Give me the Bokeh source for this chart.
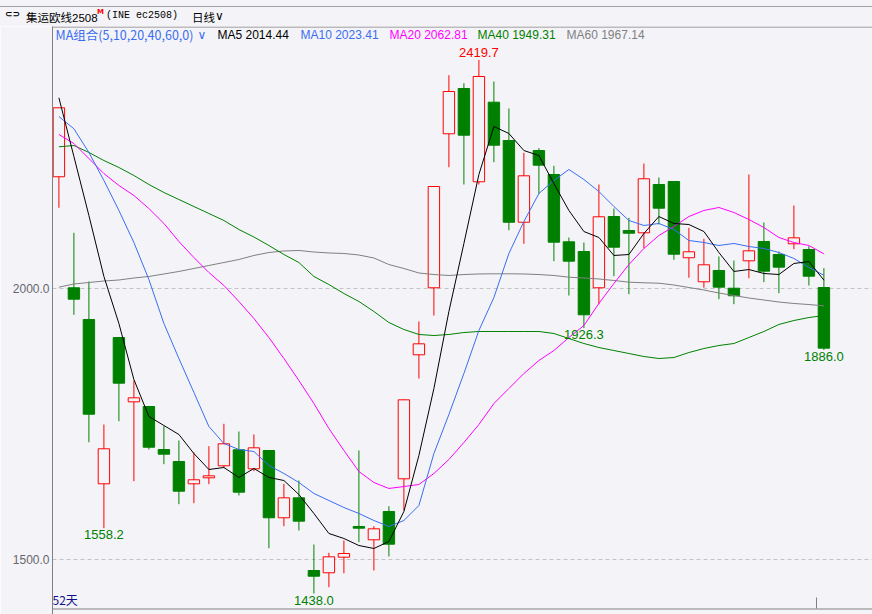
from bokeh.plotting import figure
from bokeh.layouts import column
from bokeh.models import (Range1d, FixedTicker, NumeralTickFormatter, Label, ColumnDataSource,
                          BoxAnnotation, Div)
from bokeh.core.properties import value
from bokeh.embed import file_html
from bokeh.resources import INLINE

# ---------------- data ----------------
opens = [2204.6, 2000.4, 1942.1, 1639.8, 1908.9, 1790.6, 1782.0, 1702.9, 1680.8, 1639.8,
         1650.8, 1672.9, 1702.4, 1667.4, 1701.1, 1577.3, 1614.0, 1480.3, 1476.1, 1504.8,
         1561.3, 1536.8, 1588.9, 1649.0, 1877.1, 2000.4, 2283.7, 2367.0, 2195.4, 2341.8,
         2271.3, 2121.0, 2252.9, 2208.8, 2085.0, 2067.1, 2000.4, 2131.5, 2105.8, 2101.5,
         2190.4, 2195.9, 2055.6, 2011.4, 2032.2, 1999.6, 2050.0, 2085.5, 2061.6, 2081.3,
         2070.8, 2000.9]
highs = [2331.5, 2101.5, 2012.0, 1748.9, 1910.0, 1829.8, 1783.0, 1745.8, 1719.5, 1697.4,
         1709.0, 1750.2, 1736.0, 1730.5, 1701.1, 1639.8, 1645.9, 1528.1, 1512.9, 1535.5,
         1701.1, 1561.8, 1598.6, 1795.0, 1938.4, 2187.0, 2391.5, 2376.7, 2419.7, 2379.9,
         2330.2, 2248.7, 2257.2, 2224.8, 2092.9, 2083.7, 2190.4, 2146.2, 2129.1, 2229.0,
         2203.3, 2195.9, 2110.7, 2090.5, 2057.9, 2050.6, 2208.8, 2120.5, 2067.1, 2151.8,
         2076.9, 2036.4]
lows = [2147.5, 1950.7, 1716.3, 1558.2, 1755.0, 1644.6, 1702.9, 1675.9, 1602.3, 1604.1,
        1639.1, 1669.2, 1618.3, 1663.0, 1521.3, 1561.8, 1553.9, 1438.0, 1449.6, 1475.3,
        1532.4, 1480.3, 1506.1, 1590.7, 1833.5, 1949.4, 2222.2, 2190.4, 2190.4, 2231.4,
        2106.3, 2081.3, 2173.3, 2049.3, 1986.2, 1926.3, 1970.2, 2021.7, 1988.6, 2073.2,
        2116.8, 2051.9, 2018.8, 2000.4, 1979.4, 1970.2, 2018.0, 2010.7, 1990.4, 2071.4,
        2004.6, 1886.0]
closes = [2331.5, 1979.4, 1767.8, 1704.2, 1824.9, 1798.0, 1707.1, 1694.3, 1626.2, 1647.2,
          1654.5, 1713.4, 1624.4, 1706.0, 1577.3, 1614.0, 1571.0, 1469.8, 1505.5, 1511.6,
          1558.1, 1557.0, 1528.7, 1794.3, 1897.3, 2186.7, 2361.5, 2281.1, 2389.1, 2262.7,
          2121.0, 2206.4, 2225.9, 2084.3, 2049.3, 1950.7, 2131.0, 2075.1, 2100.8, 2200.9,
          2146.8, 2062.2, 2066.6, 2042.7, 2001.5, 1985.7, 2068.4, 2030.9, 2038.3, 2092.3,
          2021.7, 1889.3]

ma5 = [2349.9, 2241.9, 2133.4, 2021.2, 1934.7, 1831.7, 1763.6, 1747.1, 1730.5, 1695.5,
       1666.1, 1669.8, 1651.4, 1668.0, 1651.4, 1645.9, 1620.1, 1585.2, 1548.4, 1539.2,
       1526.3, 1520.8, 1533.7, 1588.9, 1691.9, 1815.1, 1956.8, 2081.9, 2208.8, 2297.1,
       2284.2, 2252.9, 2243.7, 2192.2, 2142.6, 2103.9, 2092.9, 2059.8, 2061.6, 2100.3,
       2131.5, 2118.7, 2116.8, 2103.9, 2065.3, 2030.4, 2034.0, 2026.7, 2024.8, 2045.1,
       2048.7, 2014.44]
ma10 = [2315.5, 2292.9, 2249.3, 2197.8, 2142.6, 2083.7, 2015.6, 1934.7, 1870.3, 1807.8,
        1745.2, 1713.9, 1702.9, 1699.2, 1673.5, 1658.8, 1642.2, 1622.0, 1609.1, 1596.2,
        1585.2, 1572.3, 1561.3, 1572.3, 1599.9, 1695.5, 1767.3, 1842.7, 1921.8, 1982.5,
        2063.5, 2122.3, 2173.8, 2197.8, 2218.0, 2199.6, 2177.5, 2149.9, 2124.2, 2115.0,
        2118.7, 2107.6, 2087.4, 2083.7, 2078.2, 2081.9, 2076.3, 2072.7, 2065.3, 2054.3,
        2037.7, 2023.41]
ma20 = [2282.4, 2265.8, 2238.2, 2210.6, 2188.6, 2170.2, 2146.2, 2118.7, 2085.5, 2056.1,
        2028.5, 2004.6, 1975.2, 1943.9, 1908.9, 1870.3, 1829.8, 1787.5, 1741.5, 1701.1,
        1662.4, 1642.2, 1631.2, 1634.8, 1638.5, 1658.8, 1684.5, 1715.8, 1748.9, 1787.5,
        1815.1, 1842.7, 1866.6, 1885.0, 1908.9, 1931.0, 1971.5, 2008.3, 2043.2, 2072.7,
        2096.6, 2113.1, 2131.5, 2142.6, 2148.1, 2138.9, 2126.0, 2111.3, 2092.9, 2083.7,
        2078.2, 2062.81]
ma40 = [2259.8, 2262.1, 2249.3, 2234.5, 2221.7, 2207.0, 2190.4, 2175.7, 2162.8, 2149.9,
        2137.1, 2124.2, 2107.6, 2093.8, 2078.2, 2061.6, 2046.9, 2021.2, 2006.4, 1989.9,
        1975.2, 1956.8, 1936.5, 1923.7, 1914.5, 1912.6, 1914.5, 1918.1, 1920.0, 1920.0,
        1920.0, 1920.0, 1920.0, 1916.3, 1907.1, 1897.9, 1890.5, 1885.0, 1879.5, 1874.0,
        1870.3, 1872.1, 1881.3, 1888.7, 1894.2, 1897.9, 1908.9, 1920.0, 1932.9, 1940.2,
        1945.7, 1949.31]
ma60 = [2001.5, 2007.4, 2010.1, 2012.9, 2014.7, 2018.4, 2021.2, 2025.8, 2030.4, 2035.9,
        2041.4, 2046.9, 2052.4, 2059.8, 2065.3, 2068.1, 2069.0, 2066.2, 2064.4, 2063.5,
        2060.7, 2055.2, 2043.2, 2035.9, 2027.6, 2024.8, 2023.0, 2024.8, 2025.8, 2026.1,
        2026.1, 2025.8, 2024.8, 2023.0, 2019.9, 2018.4, 2016.6, 2013.8, 2010.7, 2009.6,
        2008.8, 2005.5, 2000.9, 1996.3, 1990.8, 1986.2, 1981.6, 1977.9, 1974.2, 1971.5,
        1969.6, 1967.14]

y_ticks = [1500, 2000]
low_marks = [3, 17, 35, 51]        # candles whose lows are annotated
days_label = "52天"
symbol_name = "集运欧线2508"
symbol_code = "(INE ec2508)"
period_name = "日线"
ma_group = "MA组合(5,10,20,40,60,0)"

# ---------------- styles ----------------
BG = "#f4f4f8"
RED = "#ff0000"
GREEN = "#008000"
GRAY = "#808080"
C5, C10, C20, C40, C60 = "#000000", "#3a6df0", "#ff00ff", "#008000", "#808080"

W, HEAD_H, MAIN_H = 872, 26, 588

# ---------------- header strip (HTML) ----------------
def span(left, center_y, txt, font, color="#000000", lh=14):
    return (f'<span style="position:absolute;left:{left}px;top:{center_y - lh / 2}px;'
            f'line-height:{lh}px;white-space:nowrap;color:{color};font:{font};">{txt}</span>')

header_html = (
    f'<div style="position:relative;width:{W}px;height:{HEAD_H}px;background:{BG};overflow:hidden;">'
    f'<div style="position:absolute;left:0;top:6px;width:{W}px;height:1px;background:#a0a0a6;"></div>'
    + span(5, 16, "⊂⊃", "bold 9px 'DejaVu Sans'")
    + span(26, 16, symbol_name, "11.5px 'Liberation Sans','Noto Sans CJK SC'")
    + span(97, 12, "M", "bold 7px 'DejaVu Sans'", color=RED, lh=9)
    + span(106, 17, symbol_code, "10px 'Liberation Mono'")
    + span(192, 16, period_name, "11.5px 'Noto Sans CJK SC'")
    + span(215, 16, "∨", "12px 'DejaVu Sans'")
    + '</div>'
)
head = Div(text=header_html, width=W, height=HEAD_H, margin=0)

# ---------------- price panel ----------------
n = len(closes)
idx = list(range(n))
up = [c >= o for o, c in zip(opens, closes)]
src = ColumnDataSource(dict(
    idx=idx, high=highs, low=lows,
    top=[max(o, c) for o, c in zip(opens, closes)],
    bot=[min(o, c) for o, c in zip(opens, closes)],
    line=[RED if u else GREEN for u in up],
    fill=[BG if u else GREEN for u in up],
))

# pixel -> data helpers for this panel (page y measured from top of the page)
def X(xr):
    return (xr - 58.4) / 15.0

def Y(yr):
    return 2000 + (287.5 - yr) * 1.8396

p = figure(width=W, height=MAIN_H, output_backend="svg", toolbar_location=None,
           x_range=Range1d(X(52), X(872)), y_range=Range1d(Y(614), Y(26)),
           x_axis_location=None, y_axis_location="left",
           min_border_left=52, min_border_right=0, min_border_top=0, min_border_bottom=0,
           background_fill_color=BG, border_fill_color=BG, outline_line_color=None)

ax = p.yaxis[0]
ax.ticker = FixedTicker(ticks=y_ticks)
ax.formatter = NumeralTickFormatter(format="0.0")
ax.major_tick_in = 0
ax.major_tick_out = 0
ax.minor_tick_line_color = None
ax.axis_line_color = GRAY
ax.major_label_standoff = 3
ax.major_label_text_font = "Liberation Sans"
ax.major_label_text_font_size = "12px"
ax.major_label_text_color = "#66666e"
p.xgrid.visible = False
p.ygrid.ticker = FixedTicker(ticks=y_ticks)
p.ygrid.grid_line_color = "#c4c4c8"
p.ygrid.grid_line_dash = "4 3"

# panel borders: top edge and separator to the sub-panel below
p.add_layout(BoxAnnotation(top=Y(26), bottom=Y(27), fill_color=GRAY, fill_alpha=1, line_color=None))
p.add_layout(BoxAnnotation(top=Y(608), bottom=Y(609), fill_color=GRAY, fill_alpha=1, line_color=None))
p.add_layout(BoxAnnotation(left=X(815.5), right=X(816.5), top=Y(597), bottom=Y(608),
                           fill_color=GRAY, fill_alpha=1, line_color=None))

# candles
p.segment(x0="idx", y0="high", x1="idx", y1="low", line_color="line", line_width=1, source=src)
p.vbar(x="idx", width=0.76, top="top", bottom="bot", fill_color="fill",
       line_color="line", line_width=1, source=src)

# moving averages
for ma, col in [(ma60, C60), (ma40, C40), (ma20, C20), (ma10, C10), (ma5, C5)]:
    p.line(idx, ma, line_color=col, line_width=1)

# extreme labels
hi_i = max(range(n), key=lambda i: highs[i])
p.text(x=[hi_i], y=[highs[hi_i]], text=[f"{highs[hi_i]:.1f}"], text_color=RED,
       text_font=value("Liberation Sans"), text_font_size="13px",
       text_align="center", text_baseline="bottom", y_offset=-3)
p.text(x=low_marks, y=[lows[i] for i in low_marks], text=[f"{lows[i]:.1f}" for i in low_marks],
       text_color=GREEN, text_font=value("Liberation Sans"), text_font_size="13px",
       text_align="center", text_baseline="top", y_offset=2)

def lab(xr, yr, txt, color="#000000", size="12px", font="Liberation Sans"):
    p.add_layout(Label(x=X(xr), y=Y(yr), text=txt, text_color=color, text_font_size=size,
                       text_font=font, text_baseline="middle", text_align="left"))

# MA legend row
lab(55, 34, ma_group, color=C10, size="12.5px", font="Noto Sans CJK SC")
lab(197, 34, "∨", color=C10, size="12px", font="DejaVu Sans")
lab(217, 34, f"MA5 {ma5[-1]:.2f}", color=C5)
lab(300, 34, f"MA10 {ma10[-1]:.2f}", color=C10)
lab(389, 34, f"MA20 {ma20[-1]:.2f}", color=C20)
lab(477, 34, f"MA40 {ma40[-1]:.2f}", color=C40)
lab(566, 34, f"MA60 {ma60[-1]:.2f}", color=C60)

# day count
lab(52, 599, days_label, color="#10108a", size="12px", font="Noto Sans CJK SC")

layout = column(head, p, spacing=0)
open("out.html", "w").write(file_html(layout, INLINE))
